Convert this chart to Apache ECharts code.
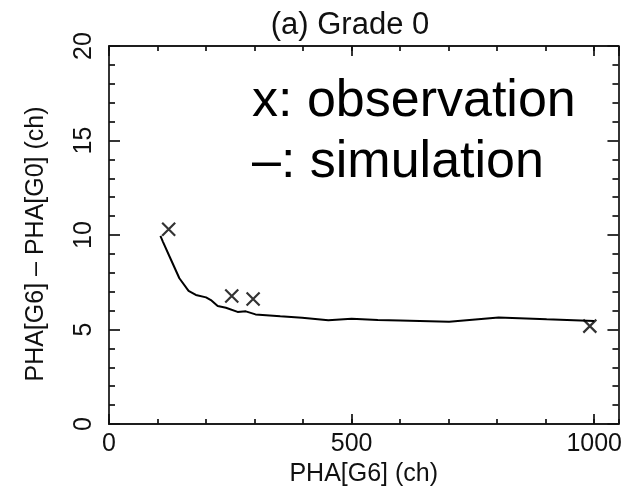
<!DOCTYPE html>
<html>
<head>
<meta charset="utf-8">
<script src="https://cdn.jsdelivr.net/npm/echarts@6/dist/echarts.min.js"></script>
<style>html,body{margin:0;padding:0;background:#fff}#c{width:625px;height:492px}</style>
</head>
<body>
<div id="c"></div>
<script>
const titleText = '(a) Grade 0';
const xName = 'PHA[G6] (ch)';
const yName = 'PHA[G6] \u2013 PHA[G0] (ch)';
const note1 = 'x: observation';
const note2 = '\u2013: simulation';

const simX = [106, 111, 125, 145, 164, 179, 200, 210, 224, 241, 265, 282, 302, 353, 398, 452, 500, 554, 600, 701, 803, 902, 1000];
const simY = [9.95, 9.65, 8.85, 7.71, 7.04, 6.83, 6.70, 6.56, 6.24, 6.15, 5.93, 5.96, 5.80, 5.70, 5.62, 5.49, 5.57, 5.50, 5.48, 5.41, 5.64, 5.54, 5.45];
const obsX = [123, 253, 297, 991];
const obsY = [10.3, 6.77, 6.61, 5.18];

const FONT = 'Liberation Sans, Arial, Helvetica, sans-serif';
const X_MIN = 0, X_MAX = 1050, Y_MIN = 0, Y_MAX = 20;

const lineStyle = {color: '#111', width: 1.7};
function xa(pos, interval, len, labels, extra) {
  return Object.assign({
    type: 'value', position: pos, min: X_MIN, max: X_MAX, interval: interval,
    axisLine: {show: true, onZero: false, lineStyle: lineStyle},
    axisTick: {show: true, inside: true, length: len, lineStyle: lineStyle},
    axisLabel: {show: labels, showMaxLabel: false, color: '#111', fontSize: 25, fontFamily: FONT, margin: 8,
      formatter: v => String(v)},
    splitLine: {show: false}
  }, extra || {});
}
function ya(pos, labels, extra) {
  return Object.assign({
    type: 'value', position: pos, min: Y_MIN, max: Y_MAX, interval: 5,
    axisLine: {show: true, onZero: false, lineStyle: lineStyle},
    axisTick: {show: true, inside: true, length: 11, lineStyle: lineStyle},
    minorTick: {show: true, splitNumber: 5, length: 6, lineStyle: lineStyle},
    axisLabel: {show: labels, rotate: 90, color: '#111', fontSize: 25, fontFamily: FONT, margin: 12},
    splitLine: {show: false}
  }, extra || {});
}

const chart = echarts.init(document.getElementById('c'), null, {renderer: 'canvas'});
chart.setOption({
  animation: false,
  backgroundColor: '#fff',
  title: {
    text: titleText, left: 345, top: 5, textAlign: 'center',
    textStyle: {fontSize: 31, fontWeight: 'normal', color: '#111', fontFamily: FONT}
  },
  grid: {left: 109, right: 4, top: 46, bottom: 68, containLabel: false},
  xAxis: [
    xa('bottom', 100, 5, false),
    xa('bottom', 500, 10, true, {
      name: xName, nameLocation: 'middle', nameGap: 38,
      nameTextStyle: {fontSize: 25, color: '#111', fontFamily: FONT}
    }),
    xa('top', 100, 5, false),
    xa('top', 500, 10, false)
  ],
  yAxis: [
    ya('left', true),
    ya('right', false)
  ],
  graphic: [
    {type: 'text', x: 36, y: 244, rotation: Math.PI / 2,
      style: {text: yName, fontSize: 25, fill: '#111', fontFamily: FONT, align: 'center', verticalAlign: 'middle'}},
    {type: 'text', left: 252, top: 76, style: {text: note1, fontSize: 52, fill: '#000', fontFamily: FONT}},
    {type: 'text', left: 252, top: 137, style: {text: note2, fontSize: 52, fill: '#000', fontFamily: FONT}}
  ],
  series: [
    {
      type: 'line', xAxisIndex: 1, yAxisIndex: 0,
      data: simX.map((x, i) => [x, simY[i]]),
      showSymbol: false, symbol: 'none',
      lineStyle: {color: '#000', width: 2}
    },
    {
      type: 'scatter', xAxisIndex: 1, yAxisIndex: 0,
      data: obsX.map((x, i) => [x, obsY[i]]),
      symbol: 'path://M0,0L10,10M10,0L0,10', symbolSize: 13,
      itemStyle: {color: 'none', borderColor: '#000', borderWidth: 2.2}
    }
  ]
});
</script>
</body>
</html>
